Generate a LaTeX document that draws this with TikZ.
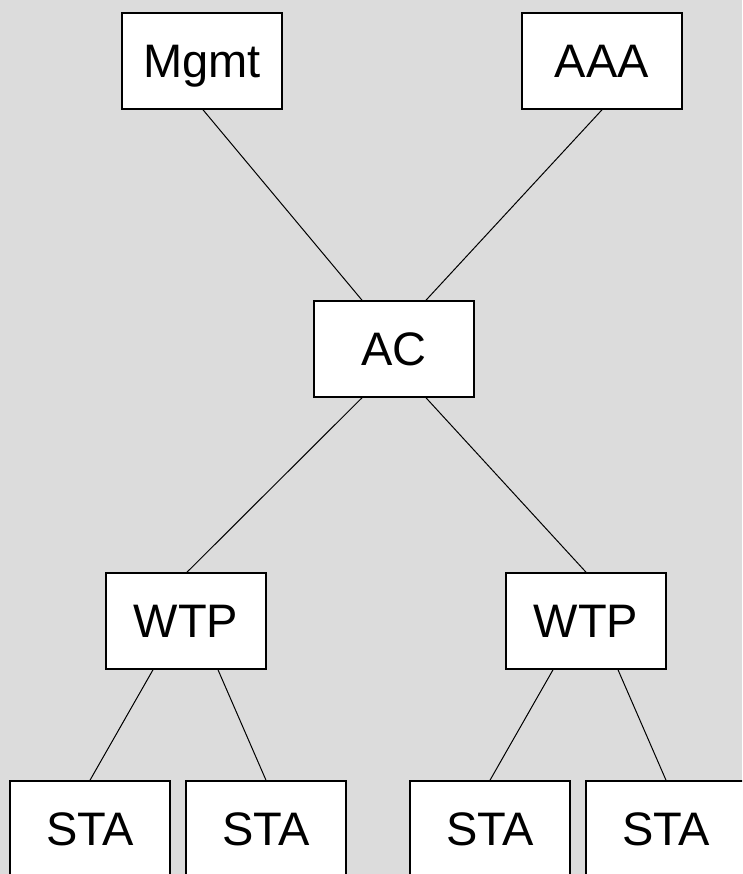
\documentclass[tikz,border=0pt]{standalone}
\usepackage{fontspec}
\setmainfont{Liberation Sans}
\begin{document}
\begin{tikzpicture}[x=1pt,y=1pt,
  box/.style={draw=black, line width=1.6pt, fill=white, minimum width=160pt, minimum height=96pt, inner sep=0pt, text height=33.7pt, text depth=0pt, font=\fontsize{47}{56}\selectfont},
  link/.style={draw=black, line width=1pt}]
\clip (0,0) rectangle (742,874);
\fill[fill={rgb,255:red,220;green,220;blue,220}] (0,0) rectangle (742,874);
\useasboundingbox (0,0) rectangle (742,874);
\node[box] (mgmt) at (202,813) {Mgmt};
\node[box] (aaa) at (602,813) {AAA};
\node[box] (ac) at (394,525) {AC};
\node[box] (wtpl) at (186,253) {WTP};
\node[box] (wtpr) at (586,253) {WTP};
\node[box] (sta1) at (90,45) {STA};
\node[box] (sta2) at (266,45) {STA};
\node[box] (sta3) at (490,45) {STA};
\node[box] (sta4) at (666,45) {STA};
\draw[link] ([xshift=1pt]mgmt.south) -- ([xshift=-32pt]ac.north);
\draw[link] ([xshift=0pt]aaa.south) -- ([xshift=32pt]ac.north);
\draw[link] ([xshift=-32pt]ac.south) -- ([xshift=1pt]wtpl.north);
\draw[link] ([xshift=32pt]ac.south) -- ([xshift=0pt]wtpr.north);
\draw[link] ([xshift=-33pt]wtpl.south) -- ([xshift=0pt]sta1.north);
\draw[link] ([xshift=32pt]wtpl.south) -- ([xshift=0pt]sta2.north);
\draw[link] ([xshift=-33pt]wtpr.south) -- ([xshift=0pt]sta3.north);
\draw[link] ([xshift=32pt]wtpr.south) -- ([xshift=0pt]sta4.north);
\end{tikzpicture}
\end{document}
